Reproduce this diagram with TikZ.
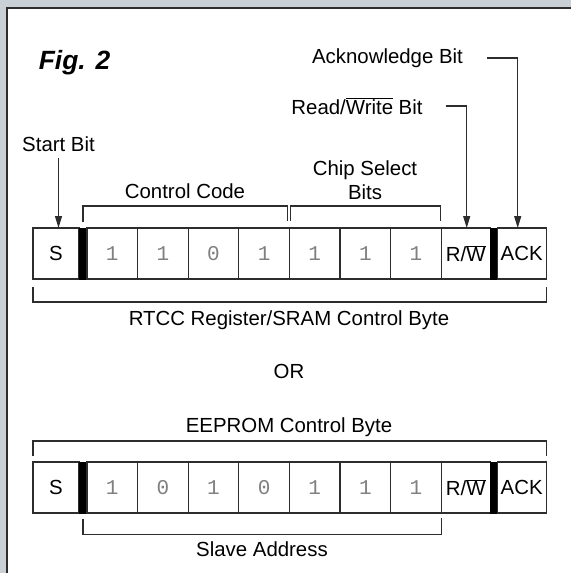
\documentclass[tikz,border=0pt]{standalone}
\usepackage{fontspec}
\setmainfont{Liberation Sans}
\newfontfamily\bitfont{Liberation Mono}
\usetikzlibrary{arrows.meta,positioning}
\definecolor{framegrey}{RGB}{201,209,215}
\definecolor{linegrey}{RGB}{45,45,45}
\newcommand{\ovl}[1]{$\overline{\mbox{#1}}$}

\begin{document}
\begin{tikzpicture}[
    x=1pt, y=-1pt,
    every node/.style={font=\fontsize{20.4}{23.5}\selectfont, inner sep=0pt, outer sep=0pt},
    cell/.style={rectangle, draw=linegrey, line width=1.2pt, minimum width=49pt, minimum height=51pt},
    bitcell/.style={cell, minimum width=50.6pt, text=black!50, font=\bitfont\fontsize{21}{24}\selectfont},
    bar/.style={rectangle, fill=black, minimum width=8pt, minimum height=52pt},
    lbl/.style={anchor=base},
    brace/.style={draw=linegrey, line width=1.4pt},
    arrow/.style={-{Triangle[length=12pt, width=7pt]}, line width=1.2pt, draw=linegrey}
]

% Frame
\useasboundingbox (0,0) rectangle (571,573);
\fill[framegrey] (0,0) rectangle (571,573);
\fill[white] (7,7.5) rectangle (571,573);
\draw[linegrey, line width=2pt] (7,573) -- (7,7.5) -- (571,7.5);

% Labels
\node[lbl, font=\bfseries\itshape\fontsize{26.4}{30}\selectfont] (fig) at (74.5,69) {Fig. 2};
\node[lbl] (ackl) at (387.5,63.3) {Acknowledge Bit};
\node[lbl] (rwl)  at (357,114.3)  {Read/\ovl{Write} Bit};
\node[lbl] (sbl)  at (58.5,151.7) {Start Bit};
\node[lbl] (ccl)  at (185,198.3)  {Control Code};
\node[align=center] (csl) at (365,180) {Chip Select\\Bits};

% RTCC / SRAM byte
\node[cell, minimum width=46pt] (s1) at (56,253.5) {S};
\node[bar, right=0pt of s1] (bar1) {};
\foreach \v [count=\i] in {1,1,0,1,1,1,1}
  \node[bitcell] (u\i) at ({87+50.6*(\i-0.5)},253.5) {\v};
\node[cell, right=0pt of u7] (rw1) {R/\ovl{W}};
\node[bar, minimum width=7pt, right=0pt of rw1] (bar2) {};
\node[cell, right=0pt of bar2] (ack1) {ACK};

% Arrows
\draw[arrow] ([yshift=-6pt]sbl.south) -- (sbl.south |- s1.north);
\draw[arrow] ([xshift=23pt]rwl.east) -| ([xshift=1pt]rw1.north);
\draw[arrow] ([xshift=24pt]ackl.east) -| ([xshift=-4pt]ack1.north);

% Brackets
\draw[brace] ([yshift=6pt]bar1.north) |- ([xshift=-2pt, yshift=22pt]u4.north east) -- ([xshift=-2pt, yshift=7pt]u4.north east);
\draw[brace] ([xshift=1pt, yshift=7pt]u4.north east) |- ([xshift=-1pt, yshift=22pt]u7.north east) -- ([xshift=-1pt, yshift=7pt]u7.north east);
\draw[brace] ([yshift=-8pt]s1.south west) -- ([yshift=-23pt]s1.south west) -| ([yshift=-8pt]ack1.south east);

\node[lbl] (rtccl) at (289,325)   {RTCC Register/SRAM Control Byte};
\node[lbl] (orl)   at (289,378.3) {OR};
\node[lbl] (eel)   at (289,432.3) {EEPROM Control Byte};

% EEPROM byte
\node[cell, minimum width=46pt] (s2) at (56,487.5) {S};
\node[bar, right=0pt of s2] (bar3) {};
\foreach \v [count=\i] in {1,0,1,0,1,1,1}
  \node[bitcell] (v\i) at ({87+50.6*(\i-0.5)},487.5) {\v};
\node[cell, right=0pt of v7] (rw2) {R/\ovl{W}};
\node[bar, minimum width=7pt, right=0pt of rw2] (bar4) {};
\node[cell, right=0pt of bar4] (ack2) {ACK};

\draw[brace] ([yshift=6pt]s2.north west) -- ([yshift=21pt]s2.north west) -| ([yshift=6pt]ack2.north east);
\draw[brace] ([yshift=-5pt]bar3.south) -- ([yshift=-21pt]bar3.south) -| ([yshift=-5pt]v7.south east);
\node[lbl] (sal) at (262,556.7) {Slave Address};

\end{tikzpicture}
\end{document}
